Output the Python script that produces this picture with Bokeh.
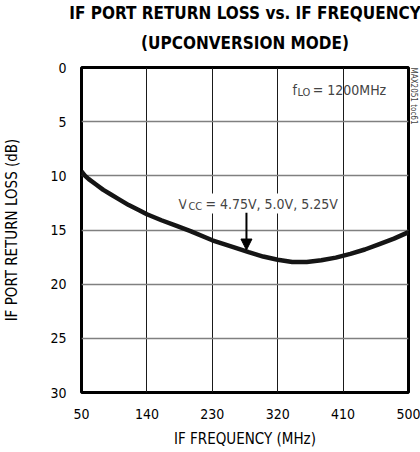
import math
from bokeh.plotting import figure
from bokeh.models import Range1d, Label, Arrow, NormalHead, ColumnDataSource, Title
from bokeh.embed import file_html
from bokeh.resources import INLINE

# ---- data ----
freq_mhz = [50, 55, 60, 70, 80, 90, 100, 115, 130, 140, 160, 180, 200, 230, 260,
            280, 300, 320, 340, 360, 380, 400, 420, 440, 460, 480, 500]
return_loss_db = [9.6, 10.0, 10.3, 10.8, 11.3, 11.7, 12.1, 12.7, 13.2, 13.55, 14.1,
                  14.6, 15.1, 15.95, 16.6, 17.05, 17.45, 17.75, 17.95, 17.95, 17.8,
                  17.55, 17.2, 16.8, 16.3, 15.8, 15.2]
x_ticks = [50, 140, 230, 320, 410, 500]
y_ticks = [0, 5, 10, 15, 20, 25, 30]
x_range_limits = [50, 500]
y_range_limits = [30, 0]

title_line1 = "IF PORT RETURN LOSS vs. IF FREQUENCY"
title_line2 = "(UPCONVERSION MODE)"
x_label = "IF FREQUENCY (MHz)"
y_label = "IF PORT RETURN LOSS (dB)"
vcc_parts = ["V", "CC", "= 4.75V, 5.0V, 5.25V"]
flo_parts = ["f", "LO", "= 1200MHz"]
side_note = "MAX2051 toc61"

# annotation anchor positions (data units)
vcc_anchor = (180.6, 12.56)
flo_anchor = (340.2, 2.05)
arrow_x = 277
arrow_y = (13.4, 16.85)

FONT = "DejaVu Sans Condensed, DejaVu Sans, sans-serif"

p = figure(width=420, height=452, output_backend="svg", toolbar_location=None,
           title=None,
           x_range=Range1d(*x_range_limits), y_range=Range1d(*y_range_limits),
           min_border_left=81, min_border_right=12, min_border_top=66,
           min_border_bottom=60, background_fill_color="white",
           border_fill_color="white")

# small spacer between frame and title block, then the two title lines
p.add_layout(Title(text=" ", text_font_size="1px", standoff=4), "above")
for txt, so in ((title_line2, 16), (title_line1, 0)):
    p.add_layout(Title(text=txt, align="center", text_font=FONT, text_font_size="17px",
                       text_font_style="bold", text_color="black", standoff=so), "above")

# figure reference note at the right edge, near the top
p.add_layout(Title(text=side_note, align="left", text_font=FONT, text_font_size="8px",
                   text_font_style="normal", text_color="#444444", standoff=1,
                   offset=0), "right")

p.outline_line_color = "black"
p.outline_line_width = 3
p.outline_line_alpha = 1

for ax in (p.xaxis, p.yaxis):
    ax.axis_line_color = None
    ax.major_tick_line_color = None
    ax.minor_tick_line_color = None
    ax.major_tick_out = 0
    ax.major_tick_in = 0
    ax.minor_tick_out = 0
    ax.minor_tick_in = 0
    ax.major_label_text_font = FONT
    ax.major_label_text_font_size = "14px"
    ax.major_label_text_color = "black"
    ax.axis_label_text_font = FONT
    ax.axis_label_text_font_size = "15px"
    ax.axis_label_text_font_style = "normal"
    ax.axis_label_text_color = "black"

p.xaxis.ticker = x_ticks
p.yaxis.ticker = y_ticks
p.xaxis.axis_label = x_label
p.yaxis.axis_label = y_label
p.xaxis.major_label_standoff = 16
p.xaxis.axis_label_standoff = 8
p.yaxis.major_label_standoff = 15
p.yaxis.axis_label_standoff = 26

p.xgrid.grid_line_color = "#1a1a1a"
p.xgrid.grid_line_width = 1
p.ygrid.grid_line_color = "#808080"
p.ygrid.grid_line_width = 1.5

src = ColumnDataSource(dict(x=freq_mhz, y=return_loss_db))
p.line("x", "y", source=src, line_color="#151515", line_width=4.5)

# V_CC annotation (white background breaks the grid lines)
p.add_layout(Label(x=vcc_anchor[0], y=vcc_anchor[1], text=vcc_parts[0],
                   text_font=FONT, text_font_size="14px", text_baseline="alphabetic",
                   background_fill_color="white", padding=2))
p.add_layout(Label(x=vcc_anchor[0], y=vcc_anchor[1], x_offset=10, y_offset=-2.5,
                   text=vcc_parts[1], text_font=FONT, text_font_size="11px",
                   text_baseline="alphabetic", background_fill_color="white", padding=2))
p.add_layout(Label(x=vcc_anchor[0], y=vcc_anchor[1], x_offset=27,
                   text=vcc_parts[2], text_font=FONT, text_font_size="14px",
                   text_baseline="alphabetic", background_fill_color="white", padding=2))

p.add_layout(Arrow(x_start=arrow_x, y_start=arrow_y[0], x_end=arrow_x, y_end=arrow_y[1],
                   line_color="black", line_width=2,
                   end=NormalHead(size=11, fill_color="black", line_color="black")))

# f_LO annotation
p.add_layout(Label(x=flo_anchor[0], y=flo_anchor[1], text=flo_parts[0],
                   text_font=FONT, text_font_size="14px", text_baseline="alphabetic"))
p.add_layout(Label(x=flo_anchor[0], y=flo_anchor[1], x_offset=5, y_offset=-3,
                   text=flo_parts[1], text_font=FONT, text_font_size="11px",
                   text_baseline="alphabetic"))
p.add_layout(Label(x=flo_anchor[0], y=flo_anchor[1], x_offset=20.3,
                   text=flo_parts[2], text_font=FONT, text_font_size="14px",
                   text_baseline="alphabetic"))

open("out.html", "w").write(file_html(p, INLINE))
